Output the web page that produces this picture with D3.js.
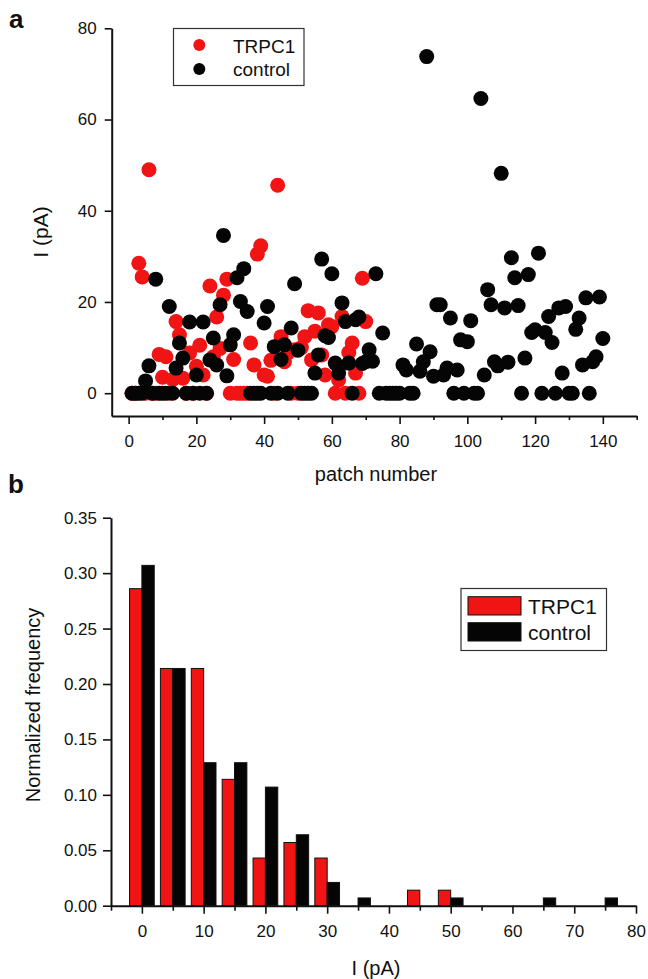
<!DOCTYPE html>
<html>
<head>
<meta charset="utf-8">
<script src="https://cdn.jsdelivr.net/npm/d3@7"></script>
<style>
  body { margin: 0; background: #fff; }
  svg { font-family: "Liberation Sans", Arial, sans-serif; }
  .axis .domain { stroke: #111; stroke-width: 2; }
  .axis line { stroke: #111; stroke-width: 1.6; }
  .axis text { font-size: 17px; fill: #111; font-family: "Liberation Sans", Arial, sans-serif; }
  .axis-title { font-size: 20px; fill: #111; }
  .legend-text { fill: #111; }
  .panel-label { font-size: 26px; font-weight: bold; fill: #111; }
</style>
</head>
<body>
<svg id="figure" width="648" height="979"></svg>
<script>
// ---- panel a: current per patch ----
const trpcPatch = [1,2,3,4,5,6,7,8,9,10,11,12,13,14,15,16,17,18,19,20,21,22,23,24,25,26,27,28,29,30,
  31,32,33,34,35,36,37,38,39,40,41,42,43,44,45,46,47,48,49,50,51,52,53,54,55,56,57,58,59,60,
  61,62,63,64,65,66,67,68,69,70];
const trpcCurrent = [0,0,28.5,25.5,0,49,0,0,8.5,3.5,8,0,3,15.7,12.8,3.3,0,8.8,0,5.9,10.5,4,0,23.5,8,16.7,9.8,21.5,25,0,
  7.4,0,0,0,0,11,6.2,30.5,32.3,4,3.7,7.2,0,45.6,12.4,6.9,8.8,0,9.5,0,10,12.4,18.1,7.3,13.6,17.6,8.4,4,15,14.6,
  0,2.9,16.8,0,8.9,11,4.4,0,25.2,15.7];

const controlPatch = [1,2,3,4,5,6,7,8,9,10,11,12,13,14,15,16,17,18,19,20,21,22,23,24,25,26,27,28,29,30,
  31,32,33,34,35,36,37,38,39,40,41,42,43,44,45,46,47,48,49,50,51,52,53,54,55,56,57,58,59,60,
  61,62,63,64,65,66,67,68,69,70,71,72,73,74,75,76,77,78,79,80,81,82,83,84,85,86,87,88,89,90,
  91,92,93,94,95,96,97,98,99,100,101,102,103,104,105,106,107,108,109,110,111,112,113,114,115,116,117,118,119,120,
  121,122,123,124,125,126,127,128,129,130,131,132,133,134,135,136,137,138,139,140];
const controlCurrent = [0,0,0,0,2.7,6,0,25,0,0,0,19,0,5.5,11,7.7,0,15.6,0,4,0,15.6,0,7.3,12.1,6.2,19.4,34.6,3.8,10.6,
  12.8,25.3,20.1,27.3,17.9,0,0,0,0,15.4,19,0,10.2,0,7.4,10.6,0,14.3,24,9.4,0,0,0,0,4.4,8.4,29.4,12.6,12.2,26.2,
  6.6,4.4,19.8,15.7,6.6,0,16.1,16.7,6.5,6.9,9.5,7,26.2,0,13.2,0,0,0,0,0,6.2,5.1,0,0,10.8,4.8,6.9,73.8,9.1,3.7,
  19.4,19.4,4,5.5,16.5,0,5.1,11.7,0,11.3,15.9,0,0,64.6,4,22.7,19.4,6.9,6,48.2,18.7,6.8,29.7,25.3,19.2,0,7.7,26,13.3,13.9,
  30.7,0,13.3,16.8,11.1,0,18.7,4.4,19,0,0,14,16.5,6.2,20.9,0,6.9,8,21.1,12];

const patchTicks = [0, 20, 40, 60, 80, 100, 120, 140];
const patchMinorTicks = [10, 30, 50, 70, 90, 110, 130, 150];
const currentTicks = [0, 20, 40, 60, 80];

// ---- panel b: normalized frequency histogram ----
const binCenters = [0,5,10,15,20,25,30,35,40,45,50,55,60,65,70,75];
const trpcFreq = [0.286,0.214,0.214,0.114,0.043,0.057,0.043,0,0,0.014,0.014,0,0,0,0,0];
const controlFreq = [0.307,0.214,0.129,0.129,0.107,0.064,0.021,0.007,0,0,0.007,0,0,0.007,0,0.007];

const currentBinTicks = [0,10,20,30,40,50,60,70,80];
const currentBinMinorTicks = [-5,5,15,25,35,45,55,65,75];
const freqTicks = [0,0.05,0.10,0.15,0.20,0.25,0.30,0.35];

const seriesNames = ['TRPC1', 'control'];
const seriesColors = ['#f01414', '#050505'];


class PatchScatter {

  /**
   * Scatter of current vs patch number
   * @param {Object}
   */
  constructor(_config) {
    this.config = {
      parent: _config.parent,
      left: 111.7, right: 636.7, top: 28.3, bottom: 416,
      dotRadius: 7.5
    };
    this.initVis();
  }

  initVis() {
    let vis = this;
    const c = vis.config;

    vis.xScale = d3.scaleLinear().domain([-5, 150]).range([c.left, c.right]);
    vis.yScale = d3.scaleLinear().domain([-5, 80]).range([c.bottom, c.top]);

    vis.chart = c.parent.append('g');

    vis.xAxisG = vis.chart.append('g')
        .attr('class', 'axis x-axis')
        .attr('transform', `translate(0,${c.bottom})`)
        .call(d3.axisBottom(vis.xScale).tickValues(patchTicks).tickSize(8).tickPadding(11).tickSizeOuter(0));

    vis.chart.append('g')
        .attr('class', 'axis minor')
        .attr('transform', `translate(0,${c.bottom})`)
        .call(d3.axisBottom(vis.xScale).tickValues(patchMinorTicks).tickSize(4).tickFormat(''))
        .select('.domain').remove();

    vis.yAxisG = vis.chart.append('g')
        .attr('class', 'axis y-axis')
        .attr('transform', `translate(${c.left},0)`)
        .call(d3.axisLeft(vis.yScale).tickValues(currentTicks).tickSize(7).tickPadding(8).tickSizeOuter(0));

    // axis titles
    vis.chart.append('text')
        .attr('class', 'axis-title')
        .attr('transform', 'translate(48,232) rotate(-90)')
        .attr('text-anchor', 'middle')
        .style('font-size', '21px')
        .text('I (pA)');

    vis.chart.append('text')
        .attr('class', 'axis-title')
        .attr('x', 376)
        .attr('y', 481)
        .attr('text-anchor', 'middle')
        .text('patch number');

    vis.renderVis();
  }

  renderVis() {
    let vis = this;

    const series = [
      {name: seriesNames[0], color: seriesColors[0], data: trpcPatch.map((p, i) => ({patch: p, current: trpcCurrent[i]}))},
      {name: seriesNames[1], color: seriesColors[1], data: controlPatch.map((p, i) => ({patch: p, current: controlCurrent[i]}))}
    ];

    // TRPC1 first, control painted over it
    series.forEach(s => {
      vis.chart.append('g').selectAll('.dot')
          .data(s.data)
        .join('circle')
          .attr('class', 'dot')
          .attr('cx', d => vis.xScale(d.patch))
          .attr('cy', d => vis.yScale(d.current))
          .attr('r', vis.config.dotRadius)
          .attr('fill', s.color);
    });

    // legend
    const legend = vis.chart.append('g');
    legend.append('rect')
        .attr('x', 173.5).attr('y', 28.5)
        .attr('width', 130.5).attr('height', 57)
        .attr('fill', 'none')
        .attr('stroke', '#333')
        .attr('stroke-width', 1.2);

    series.forEach((s, i) => {
      legend.append('circle')
          .attr('cx', 199.3)
          .attr('cy', 45 + i * 24)
          .attr('r', 6)
          .attr('fill', s.color);
      legend.append('text')
          .attr('class', 'legend-text')
          .attr('x', 233)
          .attr('y', 53 + i * 23)
          .style('font-size', '19px')
          .text(s.name);
    });
  }
}


class FreqHistogram {

  /**
   * Grouped histogram of normalized frequency
   * @param {Object}
   */
  constructor(_config) {
    this.config = {
      parent: _config.parent,
      left: 111, right: 636, top: 517.7, bottom: 905.7,
      barWidth: 2
    };
    this.initVis();
  }

  initVis() {
    let vis = this;
    const c = vis.config;

    vis.xScale = d3.scaleLinear().domain([-5, 80]).range([c.left, c.right]);
    vis.yScale = d3.scaleLinear().domain([0, 0.35]).range([c.bottom, c.top]);

    vis.chart = c.parent.append('g');
    vis.barsG = vis.chart.append('g');

    vis.xAxisG = vis.chart.append('g')
        .attr('class', 'axis x-axis')
        .attr('transform', `translate(0,${c.bottom})`)
        .call(d3.axisBottom(vis.xScale).tickValues(currentBinTicks).tickSize(8).tickPadding(11).tickSizeOuter(0));

    vis.chart.append('g')
        .attr('class', 'axis minor')
        .attr('transform', `translate(0,${c.bottom})`)
        .call(d3.axisBottom(vis.xScale).tickValues(currentBinMinorTicks).tickSize(5).tickFormat(''))
        .select('.domain').remove();

    vis.yAxisG = vis.chart.append('g')
        .attr('class', 'axis y-axis')
        .attr('transform', `translate(${c.left},0)`)
        .call(d3.axisLeft(vis.yScale).tickValues(freqTicks).tickFormat(d3.format('.2f'))
          .tickSize(8).tickPadding(6).tickSizeOuter(0));

    vis.chart.append('text')
        .attr('class', 'axis-title')
        .attr('transform', 'translate(39.5,705) rotate(-90)')
        .attr('text-anchor', 'middle')
        .text('Normalized frequency');

    vis.chart.append('text')
        .attr('class', 'axis-title')
        .attr('x', 376)
        .attr('y', 975)
        .attr('text-anchor', 'middle')
        .text('I (pA)');

    vis.renderVis();
  }

  renderVis() {
    let vis = this;
    const w = vis.config.barWidth;

    const bars = [];
    binCenters.forEach((b, i) => {
      if (trpcFreq[i] > 0) bars.push({x0: b - w, x1: b, f: trpcFreq[i], color: seriesColors[0]});
      if (controlFreq[i] > 0) bars.push({x0: b, x1: b + w, f: controlFreq[i], color: seriesColors[1]});
    });

    vis.barsG.selectAll('.bar')
        .data(bars)
      .join('rect')
        .attr('class', 'bar')
        .attr('x', d => vis.xScale(d.x0))
        .attr('width', d => vis.xScale(d.x1) - vis.xScale(d.x0))
        .attr('y', d => vis.yScale(d.f))
        .attr('height', d => vis.yScale(0) - vis.yScale(d.f))
        .attr('fill', d => d.color)
        .attr('stroke', '#111')
        .attr('stroke-width', 1);

    // legend
    const legend = vis.chart.append('g');
    legend.append('rect')
        .attr('x', 461).attr('y', 588.5)
        .attr('width', 145.5).attr('height', 62)
        .attr('fill', 'none')
        .attr('stroke', '#333')
        .attr('stroke-width', 1.2);

    seriesNames.forEach((name, i) => {
      legend.append('rect')
          .attr('x', 468).attr('y', 596.7 + i * 26)
          .attr('width', 53).attr('height', 18.3)
          .attr('fill', seriesColors[i])
          .attr('stroke', '#111')
          .attr('stroke-width', 1);
      legend.append('text')
          .attr('class', 'legend-text')
          .attr('x', 528)
          .attr('y', 614 + i * 26)
          .style('font-size', '21px')
          .text(name);
    });
  }
}


const svg = d3.select('#figure');

svg.append('text').attr('class', 'panel-label').attr('x', 9).attr('y', 28).text('a');
svg.append('text').attr('class', 'panel-label').attr('x', 8).attr('y', 493).text('b');

new PatchScatter({parent: svg});
new FreqHistogram({parent: svg});
</script>
</body>
</html>
